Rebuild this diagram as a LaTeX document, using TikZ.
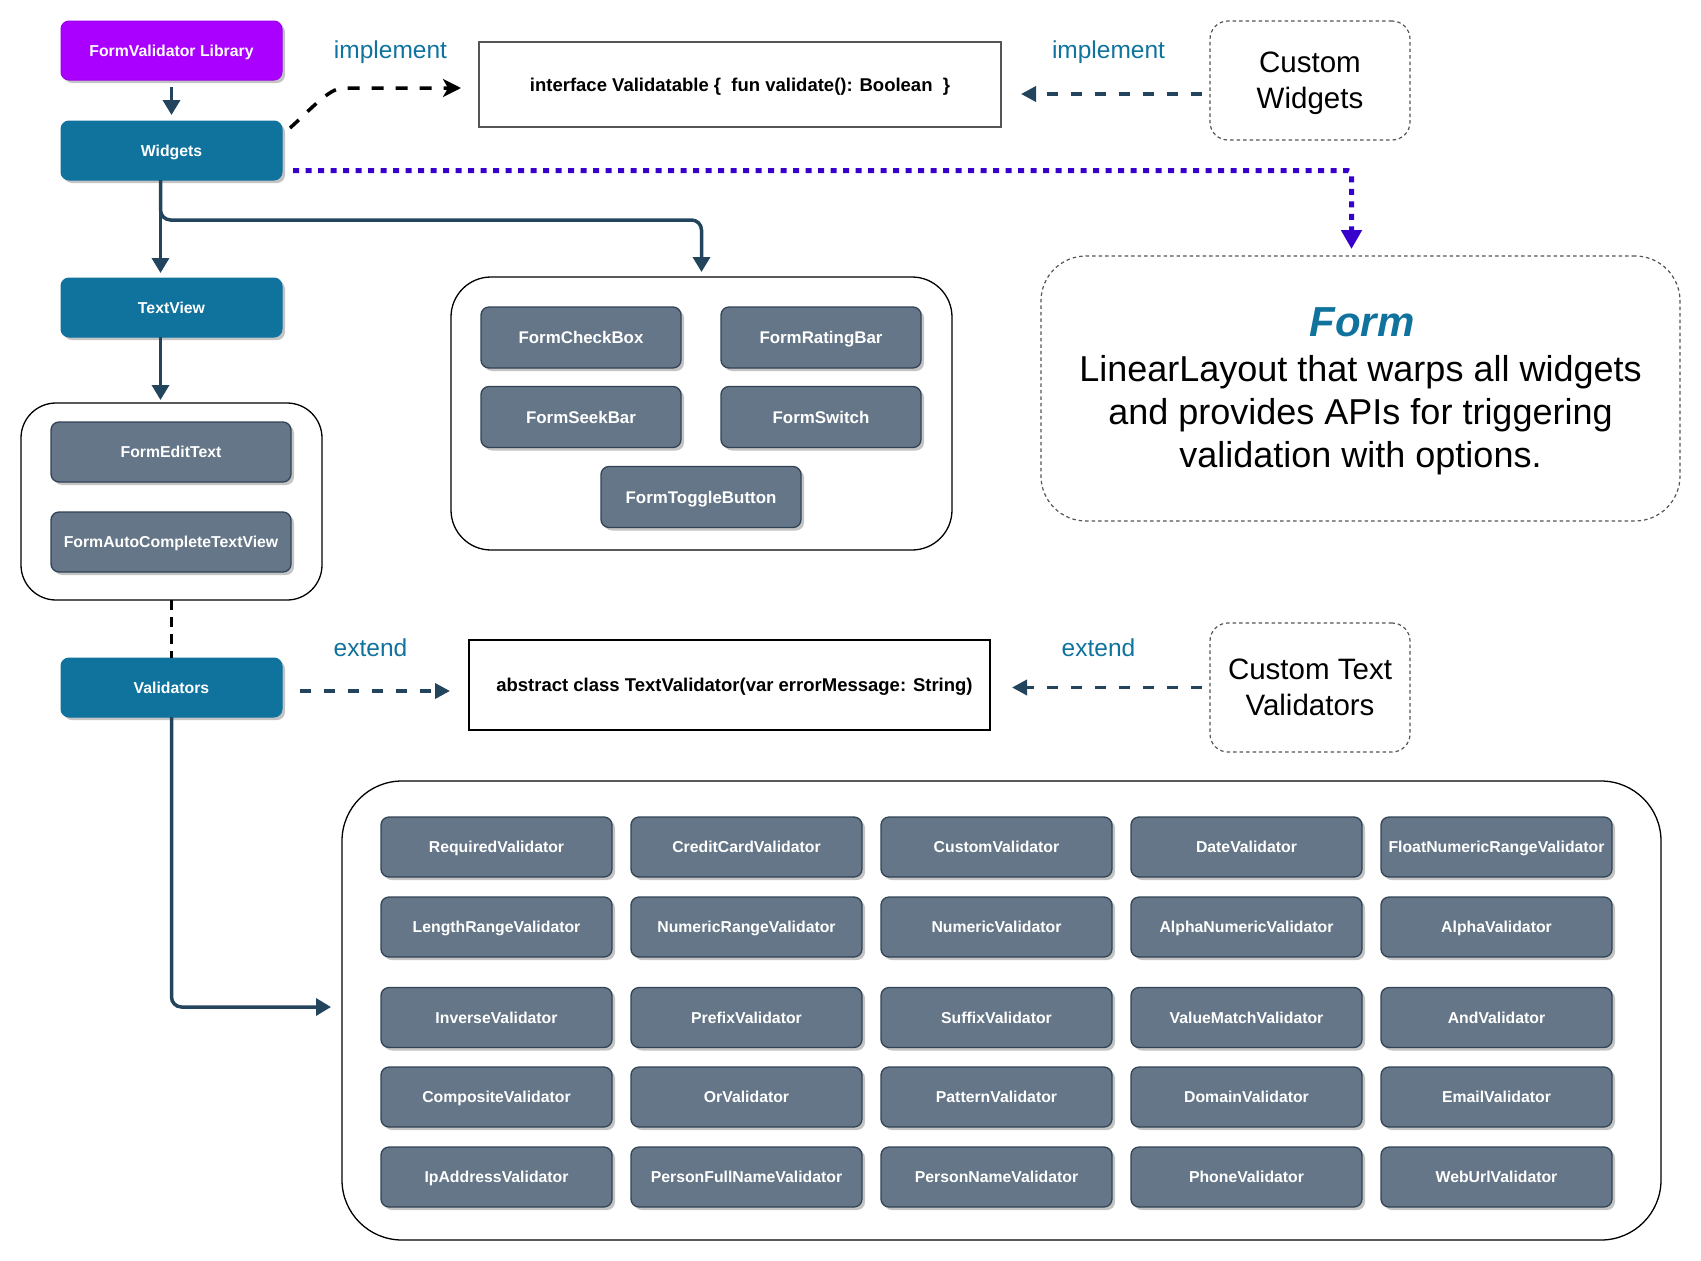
\documentclass[tikz,border=0pt]{standalone}
\usepackage{fontspec}
\setmainfont{Liberation Sans}
\usetikzlibrary{arrows.meta,calc,shadows}
\definecolor{dblue}{HTML}{10739E}
\definecolor{purp}{HTML}{AA00FF}
\definecolor{gfill}{HTML}{647687}
\definecolor{gdraw}{HTML}{314354}
\definecolor{arrc}{HTML}{23445D}
\definecolor{dotc}{HTML}{3700CC}
\definecolor{shadc}{HTML}{C4C4C4}
\definecolor{dashb}{HTML}{555555}
\begin{document}
\begin{tikzpicture}[x=1pt,y=-1pt,
  every node/.style={inner sep=0pt,outer sep=0pt},
  shad/.style={drop shadow={shadow xshift=3pt,shadow yshift=-3pt,fill=shadc,opacity=1}},
  lbox/.style={shad,rounded corners=8pt,minimum width=221pt,minimum height=59pt,text=white,
    font=\fontsize{15.8pt}{19pt}\selectfont\bfseries,text height=11.3pt,text depth=0pt},
  bluebox/.style={lbox,fill=dblue,draw=dblue,line width=1pt},
  purpbox/.style={lbox,fill=purp,draw=purp!92!black,line width=1pt},
  graybox/.style={shad,rounded corners=8pt,fill=gfill,draw=gdraw,line width=1.3pt,text=white,
    font=\fontsize{15.8pt}{19pt}\selectfont\bfseries,text height=11.3pt,text depth=0pt},
  wbox/.style={graybox,minimum width=200pt,minimum height=61pt,
    font=\fontsize{16.9pt}{20pt}\selectfont\bfseries,text height=12.1pt},
  vbox/.style={graybox,minimum width=231pt,minimum height=60pt},
  tbox/.style={graybox,minimum width=240pt,minimum height=60pt},
  group/.style={draw=black,line width=1.3pt},
  dashbox/.style={draw=dashb,line width=1.2pt,dash pattern=on 3.5pt off 3pt,rounded corners=18pt},
  codebox/.style={line width=1.5pt,font=\fontsize{18.5pt}{22pt}\selectfont\bfseries,text height=13.3pt,text depth=0pt},
  lbl/.style={text=dblue,font=\fontsize{24.5pt}{28pt}\selectfont},
  big/.style={align=center,font=\fontsize{29.5pt}{36pt}\selectfont},
  solidarr/.style={draw=arrc,line width=3.5pt,-{Triangle[length=15pt,width=17pt]}},
  dasharr/.style={draw=arrc,line width=3.5pt,dash pattern=on 11pt off 13pt,-{Triangle[length=15pt,width=15pt]}},
  blackarr/.style={draw=black,line width=3.5pt,dash pattern=on 12pt off 12pt,-{Stealth[length=18pt,width=18pt,inset=5pt]}},
  dotarr/.style={draw=dotc,line width=5pt,dash pattern=on 6pt off 6.5pt,-{Triangle[length=19pt,width=20pt]}}
]
\useasboundingbox (0,0) rectangle (1701,1261);

% ---------- groups ----------
\node[group,rounded corners=35pt,minimum width=301pt,minimum height=197pt] (g1) at (171.5,501.5) {};
\node[group,rounded corners=40pt,minimum width=501pt,minimum height=273pt] (g2) at (701.5,413.5) {};
\node[group,rounded corners=60pt,minimum width=1319pt,minimum height=459pt] (g3) at (1001.5,1010.5) {};

% ---------- left column ----------
\node[purpbox] (lib) at (171.5,50.5) {FormValidator Library};
\node[bluebox] (widgets) at (171.5,150.5) {Widgets};
\node[bluebox] (textview) at (171.5,307.5) {TextView};
\node[bluebox] (validators) at (171.5,687.5) {Validators};

\node[tbox] (edittext) at (171,452) {FormEditText};
\node[tbox] (autocomplete) at (171,542) {FormAutoCompleteTextView};

% ---------- widgets group ----------
\node[wbox] (checkbox) at (581,337.5) {FormCheckBox};
\node[wbox] (ratingbar) at (821,337.5) {FormRatingBar};
\node[wbox] (seekbar) at (581,417) {FormSeekBar};
\node[wbox] (switch) at (821,417) {FormSwitch};
\node[wbox] (toggle) at (701,497) {FormToggleButton};

% ---------- validators grid ----------
\foreach \nm [count=\c from 0] in {RequiredValidator,CreditCardValidator,CustomValidator,DateValidator,FloatNumericRangeValidator}
  \node[vbox] (va\c) at ({496.5+250*\c},847) {\nm};
\foreach \nm [count=\c from 0] in {LengthRangeValidator,NumericRangeValidator,NumericValidator,AlphaNumericValidator,AlphaValidator}
  \node[vbox] (vb\c) at ({496.5+250*\c},927) {\nm};
\foreach \nm [count=\c from 0] in {InverseValidator,PrefixValidator,SuffixValidator,ValueMatchValidator,AndValidator}
  \node[vbox] (vc\c) at ({496.5+250*\c},1017.5) {\nm};
\foreach \nm [count=\c from 0] in {CompositeValidator,OrValidator,PatternValidator,DomainValidator,EmailValidator}
  \node[vbox] (vd\c) at ({496.5+250*\c},1097) {\nm};
\foreach \nm [count=\c from 0] in {IpAddressValidator,PersonFullNameValidator,PersonNameValidator,PhoneValidator,WebUrlValidator}
  \node[vbox] (ve\c) at ({496.5+250*\c},1177) {\nm};

% ---------- code boxes ----------
\node[codebox,draw=dashb,minimum width=522pt,minimum height=85pt] (interface) at (740,84.5)
  {interface Validatable \{\ \ fun validate(): Boolean\ \ \}};
\node[codebox,draw=black,line width=1.3pt,minimum width=521pt,minimum height=90pt] (abstract) at (729.5,685)
  {\hspace*{10pt}abstract class TextValidator(var errorMessage: String)};

% ---------- custom boxes ----------
\node[dashbox,big,minimum width=200pt,minimum height=119pt] (cw) at (1310,80.5) {Custom\\\smash{Widgets}};
\node[dashbox,big,minimum width=200pt,minimum height=129pt] (ctv) at (1310,687.5) {Custom Text\\Validators};

% ---------- form box ----------
\node[dashbox,rounded corners=45pt,minimum width=639pt,minimum height=265pt] (form) at (1360.5,388.5) {};
\node[text=dblue,font=\fontsize{42pt}{44pt}\selectfont\bfseries\itshape] (formtitle) at ($(form.center)+(1.5,-66.5)$) {Form};
\node[align=center,font=\fontsize{36pt}{43pt}\selectfont] (formtext) at ($(form.center)+(0,27)$)
  {LinearLayout that warps all widgets\\and provides APIs for triggering\\validation with options.};

% ---------- labels ----------
\node[lbl] (impl1) at (390.5,52) {implement};
\node[lbl] (impl2) at (1108.5,52) {implement};
\node[lbl] (ext1) at (370.5,648) {extend};
\node[lbl] (ext2) at (1098.5,648) {extend};

% ---------- connectors ----------
\draw[solidarr,shorten <=7pt,shorten >=6pt] (lib.south) -- (widgets.north);
\draw[solidarr,shorten >=5pt] ($(widgets.south)+(-11,0)$) -- ($(textview.north)+(-11,0)$);
\draw[solidarr,rounded corners=10pt,shorten >=5pt] ($(widgets.south)+(-11,0)$) -- ($(widgets.south)+(-11,40)$) -| (g2.north);
\draw[solidarr,shorten >=3pt] ($(textview.south)+(-11,0)$) -- ($(textview.south |- g1.north)+(-11,0)$);
\draw[draw=black,line width=2.5pt,dash pattern=on 10pt off 7pt] (g1.south) -- (validators.north);
\draw[solidarr,rounded corners=10pt,shorten >=11pt] (validators.south) |- ($(g3.west)+(0,-3.5)$);
\draw[dasharr,shorten <=18pt,shorten >=19pt] ($(validators.east)+(0,3.5)$) -- ($(validators.east -| abstract.west)+(0,3.5)$);
\draw[dasharr,shorten <=8pt,shorten >=22pt] (ctv.west) -- (ctv.west -| abstract.east);
\draw[dasharr,shorten <=8pt,shorten >=20pt] ($(cw.west)+(0,13.5)$) -- ($(cw.west -| interface.east)+(0,13.5)$);
\draw[blackarr] ($(widgets.north east)+(8,7)$) .. controls +(18,-16) and +(-14,0) .. ($(interface.west)+(-136,3.5)$) -- ($(interface.west)+(-18,3.5)$);
\draw[dotarr,rounded corners=4pt,shorten >=7pt] ($(widgets.east)+(11,20)$) -| ($(form.north)+(-9,0)$);
\end{tikzpicture}
\end{document}
